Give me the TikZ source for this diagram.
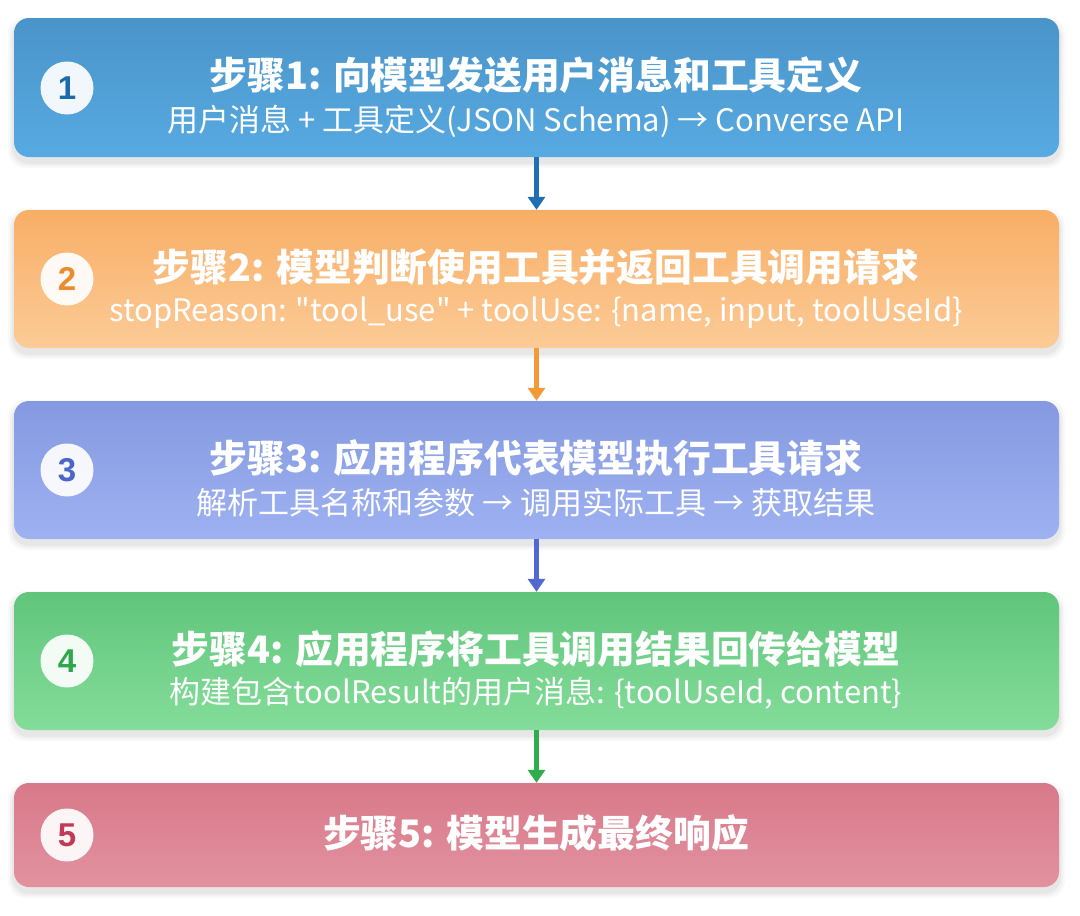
\documentclass[tikz,border=0pt]{standalone}
\usepackage{fontspec}
\newfontfamily\cjk{Noto Sans CJK SC}
\newfontfamily\numfont{Liberation Sans}
\usetikzlibrary{arrows.meta}
\definecolor{bAt}{HTML}{4A94C9}\definecolor{bAb}{HTML}{57AAE2}
\definecolor{bBt}{HTML}{F8AE66}\definecolor{bBb}{HTML}{FCCB97}
\definecolor{bCt}{HTML}{8499E0}\definecolor{bCb}{HTML}{9EB2F2}
\definecolor{bDt}{HTML}{60C57B}\definecolor{bDb}{HTML}{84DD9A}
\definecolor{bEt}{HTML}{D8798A}\definecolor{bEb}{HTML}{E2929F}
\definecolor{nA}{HTML}{1B6AAB}\definecolor{nB}{HTML}{EA8C2C}
\definecolor{nC}{HTML}{4A66C8}\definecolor{nD}{HTML}{2EA84A}
\definecolor{nE}{HTML}{C23A56}
\definecolor{aA}{HTML}{1F6FB2}\definecolor{aB}{HTML}{F29A36}
\definecolor{aC}{HTML}{5068D0}\definecolor{aD}{HTML}{2EAC4E}
\begin{document}
\begin{tikzpicture}[x=1pt,y=-1pt,
  box/.style={rectangle, rounded corners=15pt, minimum width=1045pt, inner sep=0pt},
  shad/.style={rectangle, rounded corners=17pt, fill=black, inner sep=0pt},
  numc/.style={circle, fill=white, fill opacity=0.92, text opacity=1, minimum size=53pt, inner sep=0pt, font=\numfont\bfseries\fontsize{33}{33}\selectfont},
  ttl/.style={text=white, font=\cjk\bfseries\fontsize{37.8}{44}\selectfont, inner sep=0pt},
  sub/.style={text=white, font=\cjk\fontsize{31}{36}\selectfont, inner sep=0pt},
  arr/.style={line width=5pt, -{Triangle[width=17pt,length=13pt]}}
]
\useasboundingbox (0,0) rectangle (1080,916);
\fill[white] (0,0) rectangle (1080,916);
% shadows
\foreach \cy/\h in {87.5/139, 279/138, 470/138, 661/138, 835/104}{
  \foreach \k/\o in {12/0.025, 8/0.03, 4/0.04}{
    \node[shad, opacity=\o, minimum width=1045pt+\k pt, minimum height=\h pt+\k pt] at (536.5,\cy+5) {};
  }
}
% boxes
\node[box, minimum height=139pt, top color=bAt, bottom color=bAb] (b1) at (536.5,87.5) {};
\node[box, minimum height=138pt, top color=bBt, bottom color=bBb] (b2) at (536.5,279) {};
\node[box, minimum height=138pt, top color=bCt, bottom color=bCb] (b3) at (536.5,470) {};
\node[box, minimum height=138pt, top color=bDt, bottom color=bDb] (b4) at (536.5,661) {};
\node[box, minimum height=104pt, top color=bEt, bottom color=bEb] (b5) at (536.5,835) {};
% number circles
\node[numc, text=nA] (c1) at (67,88) {1};
\node[numc, text=nB] (c2) at (67,279) {2};
\node[numc, text=nC] (c3) at (67,470) {3};
\node[numc, text=nD] (c4) at (67,661) {4};
\node[numc, text=nE] (c5) at (67,835) {5};
% texts
\node[ttl] (t1) at (536,75) {步骤1: 向模型发送用户消息和工具定义};
\node[sub] (s1) at (536,121) {用户消息 + 工具定义(JSON Schema) → Converse API};
\node[ttl] (t2) at (536,267) {步骤2: 模型判断使用工具并返回工具调用请求};
\node[sub] (s2) at (536,313) {stopReason: "tool\_use" + toolUse: \{name, input, toolUseId\}};
\node[ttl] (t3) at (536,458) {步骤3: 应用程序代表模型执行工具请求};
\node[sub] (s3) at (536,503) {解析工具名称和参数 → 调用实际工具 → 获取结果};
\node[ttl] (t4) at (536,649) {步骤4: 应用程序将工具调用结果回传给模型};
\node[sub] (s4) at (536,693) {构建包含toolResult的用户消息: \{toolUseId, content\}};
\node[ttl] (t5) at (536,833) {步骤5: 模型生成最终响应};
% arrows
\draw[arr, aA] (b1.south) -- (b2.north);
\draw[arr, aB] (b2.south) -- (b3.north);
\draw[arr, aC] (b3.south) -- (b4.north);
\draw[arr, aD] (b4.south) -- (b5.north);
\end{tikzpicture}
\end{document}
